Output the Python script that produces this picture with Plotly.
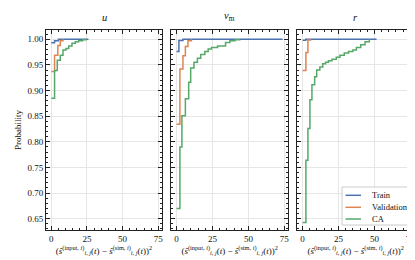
import plotly.graph_objects as go

# ---------------- data ----------------
panel_titles = ["<i>u</i>", "<i>v</i><sub>m</sub>", "<i>r</i>"]
series_names = ["Train", "Validation", "CA"]
series_colors = ["#4C72B0", "#DD8452", "#55A868"]

u_train_x = [0, 2.3, 5.0, 26.0]
u_train_p = [0.993, 0.997, 1.0, 1.0]
u_val_x = [0, 2.3, 4.6, 6.3, 8.2]
u_val_p = [0.937, 0.969, 0.988, 0.997, 1.0]
u_ca_x = [0, 2.3, 4.2, 6.3, 8.2, 10.3, 12.2, 14.5, 16.9, 19.2, 22.0, 24.5]
u_ca_p = [0.885, 0.939, 0.959, 0.969, 0.979, 0.982, 0.987, 0.992, 0.995, 0.997, 0.999, 1.0]

vm_train_x = [0, 1.6, 4.4, 73.9]
vm_train_p = [0.976, 0.9974, 1.0, 1.0]
vm_val_x = [0, 2.3, 4.4, 6.1, 7.9, 10.3]
vm_val_p = [0.834, 0.942, 0.968, 0.986, 0.997, 1.0]
vm_ca_x = [0, 2.3, 3.7, 6.1, 8.4, 9.8, 12.1, 14.5, 16.8, 19.6, 22.0, 24.3, 28.5, 34.1, 37.1, 40.7, 44.0]
vm_ca_p = [0.670, 0.790, 0.851, 0.884, 0.916, 0.944, 0.955, 0.963, 0.970, 0.976, 0.981, 0.984, 0.987, 0.9935, 0.997, 0.999, 1.0]

r_train_x = [0, 2.2, 51.5]
r_train_p = [0.998, 1.0, 1.0]
r_val_x = [0, 2.3, 3.7, 5.6]
r_val_p = [0.939, 0.974, 0.9987, 1.0]
r_ca_x = [0, 2.3, 3.7, 5.1, 6.5, 8.4, 9.8, 12.0, 14.0, 16.0, 18.0, 20.5, 23.5, 26.0, 29.0, 32.0, 35.0, 37.5, 40.5, 43.5, 46.5]
r_ca_p = [0.6425, 0.764, 0.826, 0.882, 0.911, 0.927, 0.940, 0.946, 0.952, 0.955, 0.958, 0.961, 0.965, 0.969, 0.973, 0.976, 0.979, 0.984, 0.989, 0.995, 1.0]

x_tick_vals = [0, 25, 50, 75]
y_tick_vals = [0.65, 0.70, 0.75, 0.80, 0.85, 0.90, 0.95, 1.00]
y_title = "Probability"

panels = [
    [(u_train_x, u_train_p), (u_val_x, u_val_p), (u_ca_x, u_ca_p)],
    [(vm_train_x, vm_train_p), (vm_val_x, vm_val_p), (vm_ca_x, vm_ca_p)],
    [(r_train_x, r_train_p), (r_val_x, r_val_p), (r_ca_x, r_ca_p)],
]

# ---------------- figure ----------------
FONT = "Liberation Serif"
W, H = 415, 260
ML, MR, MT, MB = 38, 9, 22, 38
PW = W - ML - MR
PH = H - MT - MB
domains = [
    [0.0, 116 / PW],
    [(163.3 - ML) / PW, (280 - ML) / PW],
    [(289.3 - ML) / PW, 1.0],
]


def px_x(px):
    return (px - ML) / PW


def px_y(py):
    return (H - MB - py) / PH


fig = go.Figure()
for i, series in enumerate(panels):
    ax = "" if i == 0 else str(i + 1)
    for j, (xs, ps) in enumerate(series):
        fig.add_trace(go.Scatter(
            x=xs, y=ps, mode="lines", line_shape="hv",
            line=dict(color=series_colors[j], width=1.5),
            name=series_names[j], showlegend=False,
            xaxis="x" + ax, yaxis="y" + ax,
        ))

xlabel = ("(<i>ŝ</i><sup>(input, <i>i</i>)</sup><sub><i>i, j</i></sub>(<i>t</i>) − "
          "<i>ŝ</i><sup>(sim, <i>i</i>)</sup><sub><i>i, j</i></sub>(<i>t</i>))<sup>2</sup>")

axis_common = dict(
    showline=True, mirror="allticks", linecolor="#222222", linewidth=1,
    ticks="inside", ticklen=4, tickwidth=0.8, tickcolor="#222222",
    showgrid=True, gridcolor="#e6e6e6", gridwidth=0.8, zeroline=False,
    tickfont=dict(family=FONT, size=9, color="#111111"),
)

layout = dict(
    width=W, height=H,
    margin=dict(l=ML, r=MR, t=MT, b=MB, pad=0),
    paper_bgcolor="white", plot_bgcolor="white",
    font=dict(family=FONT, size=9, color="#111111"),
    showlegend=False,
)

annotations = []
shapes = []
for i in range(3):
    ax = "" if i == 0 else str(i + 1)
    xa = dict(axis_common)
    xa.update(
        domain=domains[i], range=[-3.7, 77.6], tickvals=x_tick_vals,
        anchor="y" + ax,
        minor=dict(ticks="inside", ticklen=2, dtick=5, tick0=0, tickcolor="#222222", showgrid=False),
        title=dict(text=xlabel, font=dict(family=FONT, size=9), standoff=2),
    )
    ya = dict(axis_common)
    ya.update(
        domain=[0, 1], range=[0.628, 1.018], tickvals=y_tick_vals, tickformat=".2f",
        anchor="x" + ax, showticklabels=(i == 0),
        minor=dict(ticks="inside", ticklen=2, dtick=0.01, tick0=0.6, tickcolor="#222222", showgrid=False),
    )
    layout["xaxis" + ax] = xa
    layout["yaxis" + ax] = ya
    annotations.append(dict(
        text=panel_titles[i], xref="paper", yref="paper",
        x=(domains[i][0] + domains[i][1]) / 2, y=1.0, yshift=5,
        xanchor="center", yanchor="bottom", showarrow=False,
        font=dict(family=FONT, size=10.5, color="#111111"),
    ))

# y-axis title
annotations.append(dict(
    text=y_title, xref="paper", yref="paper", x=px_x(10), y=0.5,
    xanchor="center", yanchor="middle", textangle=-90, showarrow=False,
    font=dict(family=FONT, size=9, color="#111111"),
))

# legend box (drawn in the lower right of the third panel)
shapes.append(dict(
    type="rect", xref="paper", yref="paper",
    x0=px_x(334), x1=px_x(401), y0=px_y(217), y1=px_y(179),
    fillcolor="rgba(255,255,255,0.9)", line=dict(color="#cccccc", width=1),
    layer="above",
))
legend_rows = [187.3, 199.3, 211.0]
for j, name in enumerate(series_names):
    yy = px_y(legend_rows[j])
    shapes.append(dict(
        type="line", xref="paper", yref="paper",
        x0=px_x(337.5), x1=px_x(353), y0=yy, y1=yy,
        line=dict(color=series_colors[j], width=1.5), layer="above",
    ))
    annotations.append(dict(
        text=name, xref="paper", yref="paper", x=px_x(361.5), y=yy,
        xanchor="left", yanchor="middle", showarrow=False,
        font=dict(family=FONT, size=8.5, color="#111111"),
    ))

layout["annotations"] = annotations
layout["shapes"] = shapes

fig.update_layout(**layout)
fig.write_html("out.html")
